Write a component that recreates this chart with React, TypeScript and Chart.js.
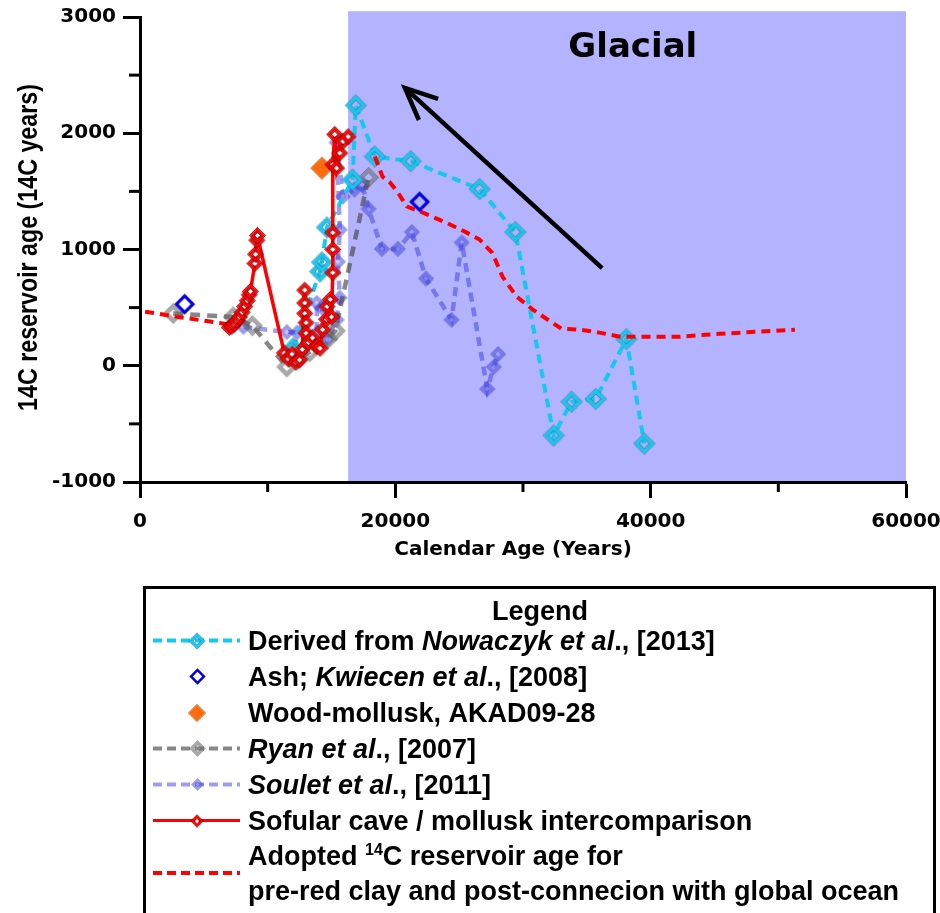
import { useEffect, useRef } from 'react';
import { Chart, registerables } from 'chart.js';
Chart.register(...registerables);

// ---- data (calendar age in years, 14C reservoir age in 14C years) ----
const nowaczykAge = [12000, 14100, 14250, 14640, 16650, 16900, 18400, 21200, 26600, 29400, 32400, 33800, 35700, 38100, 39500];
const nowaczykReservoir = [150, 810, 890, 1190, 1600, 2240, 1800, 1760, 1520, 1150, -600, -310, -285, 230, -670];

const ashAge = [3500, 21900];
const ashReservoir = [530, 1410];

const woodAge = [14250];
const woodReservoir = [1700];

const ryanAge = [2600, 7300, 8800, 11500, 12400, 13300, 14700, 15300, 17900];
const ryanReservoir = [450, 420, 345, -10, 60, 120, 230, 300, 1620];

const souletAge = [8100, 11500, 12300, 13850, 13850, 14250, 14650, 15400, 15650, 15500, 15650, 15400, 15900, 16800, 17400, 17900, 18950, 20200, 21300, 22400, 24400, 25200, 27200, 27700, 28050];
const souletReservoir = [335, 290, 285, 285, 540, 500, 225, 395, 585, 895, 1170, 1920, 1455, 1515, 1555, 1350, 1005, 1005, 1150, 750, 395, 1060, -200, -10, 100];

const sofularAge = [7000, 7200, 7400, 7600, 7800, 8000, 8200, 8400, 8550, 8650, 9000, 9050, 9150, 9200, 11300, 11600, 11900, 12200, 12500, 12700, 12900, 12900, 12900, 13000, 13000, 13200, 13500, 13850, 14100, 14300, 14600, 14650, 14900, 15000, 15100, 15100, 15100, 15100, 15250, 15400, 15650, 15900, 16300];
const sofularReservoir = [330, 340, 360, 390, 420, 460, 510, 560, 610, 640, 880, 960, 1080, 1120, 110, 60, 100, 30, 50, 140, 650, 540, 450, 370, 280, 200, 240, 165, 150, 310, 400, 510, 570, 420, 800, 1000, 1145, 1730, 1990, 1700, 1830, 1930, 1970];

const adoptedAge = [400, 3000, 5500, 7300, 12000, 18400, 19000, 19600, 20200, 20900, 22200, 24000, 25600, 26600, 27600, 28400, 29500, 30800, 32300, 33000, 34500, 36000, 37600, 39100, 42300, 45400, 51300];
const adoptedReservoir: (number | null)[] = [465, 420, 380, 350, null, 1800, 1625, 1575, 1490, 1370, 1315, 1230, 1145, 1085, 970, 765, 595, 480, 370, 320, 310, 285, 250, 250, 250, 275, 310];

const xMajorTicks = [0, 20000, 40000, 60000];
const xMinorTicks = [10000, 30000, 50000];
const yMajorTicks = [-1000, 0, 1000, 2000, 3000];
const yMinorTicks = [-500, 500, 1500, 2500];

const glacialStart = 16300;
const glacialEnd = 60000;
const glacialTop = 3050;
const arrowFrom = { x: 36200, y: 840 };
const arrowTo = { x: 20750, y: 2390 };
const glacialLabelPos = { x: 38600, y: 2735 };

const xTitle = 'Calendar Age (Years)';
const yTitle = '14C reservoir age (14C years)';

const FONT = "'DejaVu Sans', 'Liberation Sans', sans-serif";
const LFONT = "'Liberation Sans', Arial, sans-serif";

function pts(xs: number[], ys: (number | null)[]) {
  return xs.map((x, i) => ({ x, y: ys[i] }));
}

function diamondPath(g: CanvasRenderingContext2D, cx: number, cy: number, r: number) {
  g.beginPath();
  g.moveTo(cx, cy - r);
  g.lineTo(cx + r, cy);
  g.lineTo(cx, cy + r);
  g.lineTo(cx - r, cy);
  g.closePath();
}

type Layer = { r: number; color?: string };
function makeMarker(layers: Layer[]) {
  const R = layers[0].r;
  const size = Math.ceil(2 * R + 2);
  const c = document.createElement('canvas');
  c.width = size;
  c.height = size;
  const g = c.getContext('2d')!;
  const m = size / 2;
  for (const L of layers) {
    g.globalCompositeOperation = 'destination-out';
    g.fillStyle = '#000';
    diamondPath(g, m, m, L.r);
    g.fill();
    if (L.color) {
      g.globalCompositeOperation = 'source-over';
      g.fillStyle = L.color;
      diamondPath(g, m, m, L.r);
      g.fill();
    }
  }
  return c;
}

function markers(s: number) {
  return {
    cyan: makeMarker([
      { r: 11 * s, color: '#2f7f9f' },
      { r: 10 * s, color: '#14c8f0' },
      { r: 5.5 * s, color: '#2f7f9f' },
      { r: 4.4 * s },
    ]),
    gray: makeMarker([
      { r: 10.5 * s, color: 'rgba(90,90,90,0.7)' },
      { r: 9.5 * s, color: 'rgba(110,110,110,0.6)' },
      { r: 5.2 * s, color: 'rgba(90,90,90,0.7)' },
      { r: 4.2 * s },
    ]),
    soulet: makeMarker([
      { r: 8 * s, color: 'rgba(50,50,180,0.6)' },
      { r: 7 * s, color: 'rgba(70,70,230,0.55)' },
      { r: 3.8 * s, color: 'rgba(50,50,180,0.6)' },
      { r: 2.7 * s, color: 'rgba(140,140,255,0.5)' },
    ]),
    red: makeMarker([
      { r: 8.5 * s, color: '#8b0000' },
      { r: 7.3 * s, color: '#ff0000' },
      { r: 4 * s, color: '#8b0000' },
      { r: 2.6 * s, color: '#ffffff' },
    ]),
    ash: makeMarker([{ r: 10.5 * s, color: '#0000dd' }, { r: 6 * s }]),
    wood: makeMarker([{ r: 11.5 * s, color: '#b84c00' }, { r: 10.5 * s, color: '#ff6a0a' }]),
  };
}

type Part = { t: string; i?: boolean; sup?: boolean };
function drawRich(g: CanvasRenderingContext2D, parts: Part[], x: number, y: number, size: number) {
  let cx = x;
  for (const p of parts) {
    if (p.sup) {
      g.font = `bold ${Math.round(size * 0.6)}px ${LFONT}`;
      g.fillText(p.t, cx, y - size * 0.36);
    } else {
      g.font = `${p.i ? 'italic ' : ''}bold ${size}px ${LFONT}`;
      g.fillText(p.t, cx, y);
    }
    cx += g.measureText(p.t).width;
  }
}

export default function App() {
  const ref = useRef<HTMLCanvasElement>(null);

  useEffect(() => {
    const canvas = ref.current!;
    const mk = markers(1);
    const lg = markers(0.78);

    const decorPlugin = {
      id: 'decor',
      beforeDraw(chart: any) {
        const { ctx, scales } = chart;
        const x = scales.x, y = scales.y;
        const x0 = x.getPixelForValue(glacialStart);
        const x1 = x.getPixelForValue(glacialEnd);
        const y0 = y.getPixelForValue(glacialTop);
        const y1 = y.getPixelForValue(-1000);
        ctx.save();
        ctx.fillStyle = '#b3b3ff';
        ctx.fillRect(x0, y0, x1 - x0, y1 - y0);
        ctx.restore();
      },
      afterDatasetsDraw(chart: any) {
        const { ctx, scales } = chart;
        const x = scales.x, y = scales.y;
        ctx.save();
        const ax0 = x.getPixelForValue(arrowFrom.x), ay0 = y.getPixelForValue(arrowFrom.y);
        const ax1 = x.getPixelForValue(arrowTo.x), ay1 = y.getPixelForValue(arrowTo.y);
        ctx.strokeStyle = '#000';
        ctx.lineWidth = 4.5;
        ctx.lineCap = 'butt';
        ctx.beginPath();
        ctx.moveTo(ax0, ay0);
        ctx.lineTo(ax1, ay1);
        ctx.stroke();
        const ang = Math.atan2(ay0 - ay1, ax0 - ax1);
        const hl = 35, spread = 0.42;
        ctx.lineJoin = 'miter';
        ctx.beginPath();
        ctx.moveTo(ax1 + Math.cos(ang - spread) * hl, ay1 + Math.sin(ang - spread) * hl);
        ctx.lineTo(ax1, ay1);
        ctx.lineTo(ax1 + Math.cos(ang + spread) * hl, ay1 + Math.sin(ang + spread) * hl);
        ctx.stroke();
        ctx.fillStyle = '#000';
        ctx.font = `bold 34px ${FONT}`;
        ctx.textAlign = 'center';
        ctx.textBaseline = 'middle';
        ctx.fillText('Glacial', x.getPixelForValue(glacialLabelPos.x), y.getPixelForValue(glacialLabelPos.y));
        ctx.restore();
      },
      afterDraw(chart: any) {
        const { ctx, scales, chartArea } = chart;
        const x = scales.x, y = scales.y;
        ctx.save();
        ctx.strokeStyle = '#000';
        ctx.lineWidth = 3;
        for (const v of xMinorTicks) {
          const px = x.getPixelForValue(v);
          ctx.beginPath();
          ctx.moveTo(px, chartArea.bottom);
          ctx.lineTo(px, chartArea.bottom + 10);
          ctx.stroke();
        }
        for (const v of yMinorTicks) {
          const py = y.getPixelForValue(v);
          ctx.beginPath();
          ctx.moveTo(chartArea.left - 11, py);
          ctx.lineTo(chartArea.left, py);
          ctx.stroke();
        }
        ctx.fillStyle = '#000';
        ctx.font = `bold 20px ${FONT}`;
        ctx.textAlign = 'center';
        ctx.textBaseline = 'alphabetic';
        ctx.fillText(xTitle, (chartArea.left + chartArea.right) / 2 - 10, 555);
        ctx.save();
        ctx.translate(37, (chartArea.top + chartArea.bottom) / 2 - 2);
        ctx.rotate(-Math.PI / 2);
        ctx.scale(0.83, 1);
        ctx.font = `bold 28px ${LFONT}`;
        ctx.fillText(yTitle, 0, 0);
        ctx.restore();

        // legend
        ctx.lineWidth = 3;
        ctx.strokeRect(144.5, 587.5, 790, 360);
        ctx.textAlign = 'center';
        ctx.font = `bold 27px ${LFONT}`;
        ctx.fillText('Legend', 540, 620);
        ctx.textAlign = 'left';
        const sx0 = 153, sx1 = 240, smx = 197, tx = 248, size = 27;
        const rows: { b: number; parts: Part[]; line?: string; dash?: number[]; lw?: number; m?: HTMLCanvasElement }[] = [
          { b: 650, parts: [{ t: 'Derived from ' }, { t: 'Nowaczyk et al', i: true }, { t: '., [2013]' }], line: '#14c8f0', dash: [9, 5], lw: 4, m: lg.cyan },
          { b: 686, parts: [{ t: 'Ash; ' }, { t: 'Kwiecen et al', i: true }, { t: '., [2008]' }], m: lg.ash },
          { b: 722, parts: [{ t: 'Wood-mollusk, AKAD09-28' }], m: lg.wood },
          { b: 758, parts: [{ t: 'Ryan et al', i: true }, { t: '., [2007]' }], line: 'rgba(70,70,70,0.65)', dash: [9, 5], lw: 4, m: lg.gray },
          { b: 794, parts: [{ t: 'Soulet et al', i: true }, { t: '., [2011]' }], line: 'rgba(60,60,230,0.5)', dash: [9, 5], lw: 4, m: lg.soulet },
          { b: 830, parts: [{ t: 'Sofular cave / mollusk intercomparison' }], line: '#ff0000', dash: [], lw: 3, m: lg.red },
          { b: 865, parts: [{ t: 'Adopted ' }, { t: '14', sup: true }, { t: 'C reservoir age for' }] },
          { b: 900, parts: [{ t: 'pre-red clay and post-connecion with global ocean' }] },
        ];
        for (const r of rows) {
          const cy = r.b - 9.5;
          if (r.line) {
            ctx.strokeStyle = r.line;
            ctx.lineWidth = r.lw!;
            ctx.setLineDash(r.dash!);
            ctx.beginPath();
            ctx.moveTo(sx0, cy);
            ctx.lineTo(sx1, cy);
            ctx.stroke();
            ctx.setLineDash([]);
          }
          if (r.m) ctx.drawImage(r.m, Math.round(smx - r.m.width / 2), Math.round(cy - r.m.height / 2));
          ctx.fillStyle = '#000';
          drawRich(ctx, r.parts, tx, r.b, size);
        }
        ctx.strokeStyle = '#ff0000';
        ctx.lineWidth = 4;
        ctx.setLineDash([9, 5]);
        ctx.beginPath();
        ctx.moveTo(sx0, 873);
        ctx.lineTo(sx1, 873);
        ctx.stroke();
        ctx.restore();
      },
    };

    const tickFont = { family: FONT, weight: 'bold' as const, size: 20 };

    const chart = new Chart(canvas, {
      type: 'line',
      data: {
        datasets: [
          {
            label: 'Sofular cave / mollusk intercomparison',
            data: pts(sofularAge, sofularReservoir),
            borderColor: '#ff0000',
            borderWidth: 3.5,
            pointStyle: mk.red as any,
            pointRadius: 6,
            tension: 0,
          },
          {
            label: 'Wood-mollusk, AKAD09-28',
            data: pts(woodAge, woodReservoir),
            showLine: false,
            pointStyle: mk.wood as any,
            pointRadius: 6,
          },
          {
            label: 'Ash; Kwiecen et al., [2008]',
            data: pts(ashAge, ashReservoir),
            showLine: false,
            pointStyle: mk.ash as any,
            pointRadius: 6,
          },
          {
            label: 'Adopted 14C reservoir age',
            data: pts(adoptedAge, adoptedReservoir),
            borderColor: '#ff0000',
            borderWidth: 4,
            borderDash: [9, 6],
            pointRadius: 0,
            spanGaps: false,
            tension: 0,
          },
          {
            label: 'Derived from Nowaczyk et al., [2013]',
            data: pts(nowaczykAge, nowaczykReservoir),
            borderColor: '#14c8f0',
            borderWidth: 4,
            borderDash: [9, 6],
            pointStyle: mk.cyan as any,
            pointRadius: 6,
            tension: 0,
          },
          {
            label: 'Ryan et al., [2007]',
            data: pts(ryanAge, ryanReservoir),
            borderColor: 'rgba(70,70,70,0.65)',
            borderWidth: 4.5,
            borderDash: [10, 7],
            pointStyle: mk.gray as any,
            pointRadius: 6,
            tension: 0,
          },
          {
            label: 'Soulet et al., [2011]',
            data: pts(souletAge, souletReservoir),
            borderColor: 'rgba(60,60,230,0.5)',
            borderWidth: 4.5,
            borderDash: [9, 6],
            pointStyle: mk.soulet as any,
            pointRadius: 5,
            tension: 0,
          },
        ],
      },
      options: {
        animation: false,
        responsive: false,
        devicePixelRatio: 1,
        events: [],
        layout: { padding: { left: 0, right: 34, top: 17, bottom: 371 } },
        plugins: { legend: { display: false }, tooltip: { enabled: false } },
        scales: {
          x: {
            type: 'linear',
            min: 0,
            max: 60000,
            afterFit: (s: any) => {
              s.height = 60;
              s.paddingLeft = 0;
              s.paddingRight = 0;
            },
            afterBuildTicks: (s: any) => {
              s.ticks = xMajorTicks.map((v) => ({ value: v }));
            },
            ticks: {
              autoSkip: false,
              maxRotation: 0,
              padding: 12,
              color: '#000',
              font: tickFont,
              callback: (v: any) => String(v),
            },
            grid: { drawOnChartArea: false, drawTicks: true, tickLength: 16, tickWidth: 3, tickColor: '#000' },
            border: { display: true, color: '#000', width: 3 },
          },
          y: {
            type: 'linear',
            min: -1000,
            max: 3000,
            afterFit: (s: any) => {
              s.width = 140;
              s.paddingTop = 0;
              s.paddingBottom = 0;
            },
            afterBuildTicks: (s: any) => {
              s.ticks = yMajorTicks.map((v) => ({ value: v }));
            },
            ticks: {
              autoSkip: false,
              padding: 7,
              color: '#000',
              font: tickFont,
              callback: (v: any) => String(v),
            },
            grid: { drawOnChartArea: false, drawTicks: true, tickLength: 17, tickWidth: 3, tickColor: '#000' },
            border: { display: true, color: '#000', width: 3 },
          },
        },
      },
      plugins: [decorPlugin],
    } as any);

    return () => chart.destroy();
  }, []);

  return (
    <div style={{ position: 'absolute', left: 0, top: 0, width: 940, height: 913, background: '#fff' }}>
      <canvas ref={ref} width={940} height={913} style={{ width: 940, height: 913, display: 'block' }} />
    </div>
  );
}
